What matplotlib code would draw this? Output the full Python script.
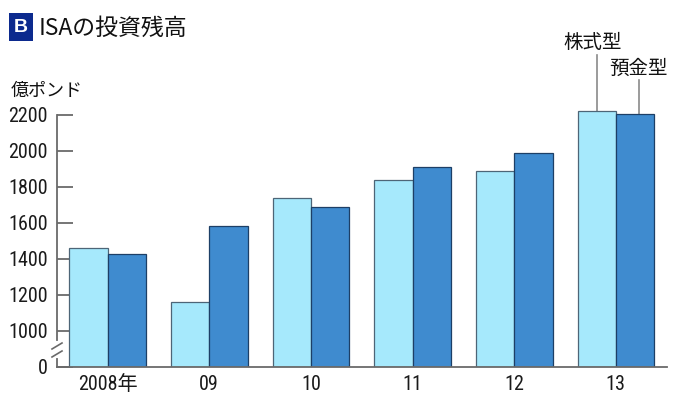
import matplotlib
matplotlib.use('Agg')
import matplotlib.pyplot as plt
from matplotlib import font_manager
import numpy as np

# data (億ポンド)
years = ['2008年', '09', '10', '11', '12', '13']
stock = [1460, 1160, 1735, 1835, 1890, 2220]   # 株式型
deposit = [1425, 1580, 1690, 1910, 1990, 2205]  # 預金型
yticks = [1000, 1200, 1400, 1600, 1800, 2000, 2200]

# axis is broken below 1000: "0" is drawn where 800 would be
ZERO = 800

JP_FONT = ['Noto Sans CJK JP', 'DejaVu Sans']

# the numbers in the original are set in a narrow face; use one if there is one
num_family, num_stretch = 'Noto Sans CJK JP', 'normal'
for f in font_manager.fontManager.ttflist:
    if f.style != 'normal' or f.weight not in (400, 'normal', 'regular'):
        continue
    if 'Narrow' in f.name or 'Condensed' in f.name or f.stretch in ('condensed', 'semi-condensed'):
        if 'Mono' in f.name or 'Serif' in f.name:
            continue
        num_family, num_stretch = f.name, f.stretch
        if 'Liberation' in f.name:
            break
NUM_FONT = [num_family, 'Noto Sans CJK JP', 'DejaVu Sans']
plt.rcParams['font.family'] = NUM_FONT
plt.rcParams['font.stretch'] = num_stretch

LIGHT = '#a6e9fc'
DARK = '#3f8bcf'
AXIS = '#6a6a6a'

W, H = 696, 401


def px(x, y):
    # pixel (from top-left) -> figure fraction
    return x / W, 1 - y / H


fig = plt.figure(figsize=(W / 100, H / 100), dpi=100)
# 0.18 px per unit, 800..2240 shown
ax = fig.add_axes([56.7 / W, 34.3 / H, 610 / W, 259.2 / H])

x = np.arange(len(years))
bw = 0.377
ax.bar(x - bw / 2, np.array(stock) - ZERO, bw, bottom=ZERO, color=LIGHT,
       edgecolor='#4d6577', linewidth=0.9, zorder=2)
ax.bar(x + bw / 2, np.array(deposit) - ZERO, bw, bottom=ZERO, color=DARK,
       edgecolor='#1d3f66', linewidth=0.9, zorder=2)

ax.set_xlim(-0.5, 5.5)
ax.set_ylim(ZERO, 2240)
ax.set_axisbelow(True)

ax.set_yticks([ZERO] + yticks)
ax.set_yticklabels(['0'] + [str(v) for v in yticks])
ax.set_xticks(x)
ax.set_xticklabels(years)

for s in ['top', 'right']:
    ax.spines[s].set_visible(False)
for s in ['left', 'bottom']:
    ax.spines[s].set_color(AXIS)
    ax.spines[s].set_linewidth(1.3)
ax.spines['left'].set_bounds(ZERO, 2200)

lsize = 14.5 if num_family != 'Noto Sans CJK JP' else 14
ax.tick_params(axis='y', direction='in', length=11.5, width=1.3, color=AXIS,
               pad=6.5, labelsize=lsize, labelcolor='#1a1a1a')
ax.tick_params(axis='x', length=0, pad=6, labelsize=lsize, labelcolor='#1a1a1a')

# axis break mark
gx0, gy0 = px(56.7, 356)
gx1, gy1 = px(56.7, 343)
fig.add_artist(plt.Line2D([gx0, gx1], [gy0, gy1], color='white', lw=3))
for yb in [354, 346]:
    a = px(52, yb + 3)
    b = px(62, yb - 3)
    fig.add_artist(plt.Line2D([a[0], b[0]], [a[1], b[1]], color=AXIS, lw=1.2))

# series labels with leader lines
ax.plot([5 - bw / 2, 5 - bw / 2], [stock[-1], 2532], color='#8a8a8a', lw=1.2,
        clip_on=False, zorder=1)
ax.text(4.775, 2540, '株式型', ha='center', va='bottom', fontsize=14,
        family=JP_FONT, color='#111111')
ax.plot([5 + bw / 2 + 0.04, 5 + bw / 2 + 0.04], [deposit[-1], 2393],
        color='#8a8a8a', lw=1.2, clip_on=False, zorder=1)
ax.text(5.22, 2400, '預金型', ha='center', va='bottom', fontsize=14,
        family=JP_FONT, color='#111111')

# title
bx, by = px(21, 27)
fig.text(bx, by, 'B', ha='center', va='center', fontsize=14, fontweight='bold',
         color='white', family=['Liberation Sans', 'DejaVu Sans'],
         bbox=dict(boxstyle='square,pad=0.28', fc='#0c2a8e', ec='none'))
tx, ty = px(39, 28)
fig.text(tx, ty, 'ISAの投資残高', ha='left', va='center', fontsize=16.5,
         family=JP_FONT, color='#111111')

ux, uy = px(11, 91)
fig.text(ux, uy, '億ポンド', ha='left', va='center', fontsize=13,
         family=JP_FONT, color='#111111')

fig.savefig('out.png', dpi=100)
